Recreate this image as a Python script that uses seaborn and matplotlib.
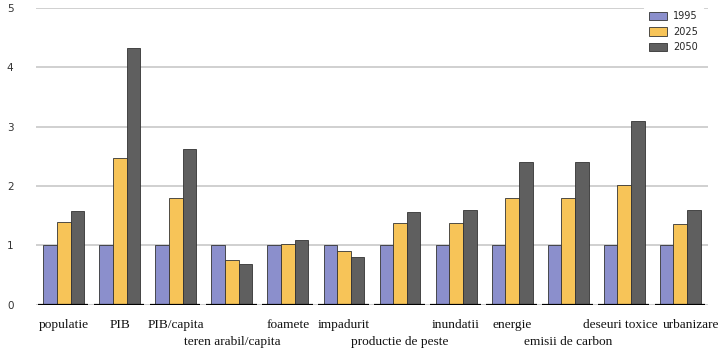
import pandas as pd
import matplotlib.pyplot as plt
import seaborn as sns

# Data
categories = ['populatie', 'PIB', 'PIB/capita', 'teren arabil/capita', 'foamete',
              'impadurit', 'productie de peste', 'inundatii', 'energie',
              'emisii de carbon', 'deseuri toxice', 'urbanizare']
vals_1995 = [1, 1, 1, 1, 1, 1, 1, 1, 1, 1, 1, 1]
vals_2025 = [1.4, 2.48, 1.8, 0.75, 1.02, 0.9, 1.38, 1.38, 1.8, 1.8, 2.02, 1.37]
vals_2050 = [1.58, 4.32, 2.62, 0.68, 1.1, 0.8, 1.57, 1.6, 2.4, 2.4, 3.1, 1.6]
years = ['1995', '2025', '2050']
# labels that Excel pushed to the second row
second_row = ['teren arabil/capita', 'productie de peste', 'emisii de carbon']

data = pd.DataFrame({
    'categorie': categories * 3,
    'an': [years[0]] * 12 + [years[1]] * 12 + [years[2]] * 12,
    'valoare': vals_1995 + vals_2025 + vals_2050,
})

palette = {'1995': '#8b8fcc', '2025': '#f7c458', '2050': '#5f5f5f'}

sns.set_style('white')
fig = plt.figure(figsize=(7.28, 3.52), dpi=100)
ax = fig.add_axes([0.049, 0.134, 0.924, 0.843])

sns.barplot(data=data, x='categorie', y='valoare', hue='an', palette=palette,
            width=0.73, edgecolor='#333333', linewidth=0.6, saturation=1, ax=ax)

# black baseline segment under every group
for i in range(len(categories)):
    ax.hlines(0, i - 0.46, i + 0.44, color='black', linewidth=1.6, zorder=3)

ax.set_ylim(0, 5)
ax.set_xlim(-0.5, len(categories) - 0.5)
ax.set_yticks(range(6))
ax.yaxis.grid(True, color='#c8c8c8', linewidth=1.2)
ax.set_axisbelow(True)
for s in ax.spines.values():
    s.set_visible(False)

ax.tick_params(axis='y', length=0, pad=16, labelsize=7.5, labelcolor='#333333')
ax.set_xticks([])
ax.set_xlabel('')
ax.set_ylabel('')

# staggered category labels, drawn under each group
nudge = {'deseuri toxice': -0.07, 'urbanizare': 0.2}
trans = ax.get_xaxis_transform()
for i, c in enumerate(categories):
    y = -0.125 if c in second_row else -0.067
    ax.text(i + nudge.get(c, 0), y, c, transform=trans, ha='center', va='center',
            family='Liberation Serif', fontsize=9.6, color='#111111')

leg = ax.legend(loc='upper right', bbox_to_anchor=(0.992, 1.005), frameon=True,
                framealpha=1, edgecolor='white', fontsize=7, handlelength=1.9,
                handleheight=0.95, handletextpad=0.6, borderaxespad=0.0,
                labelspacing=0.55, borderpad=0.5)

plt.savefig('out.png', dpi=100)
